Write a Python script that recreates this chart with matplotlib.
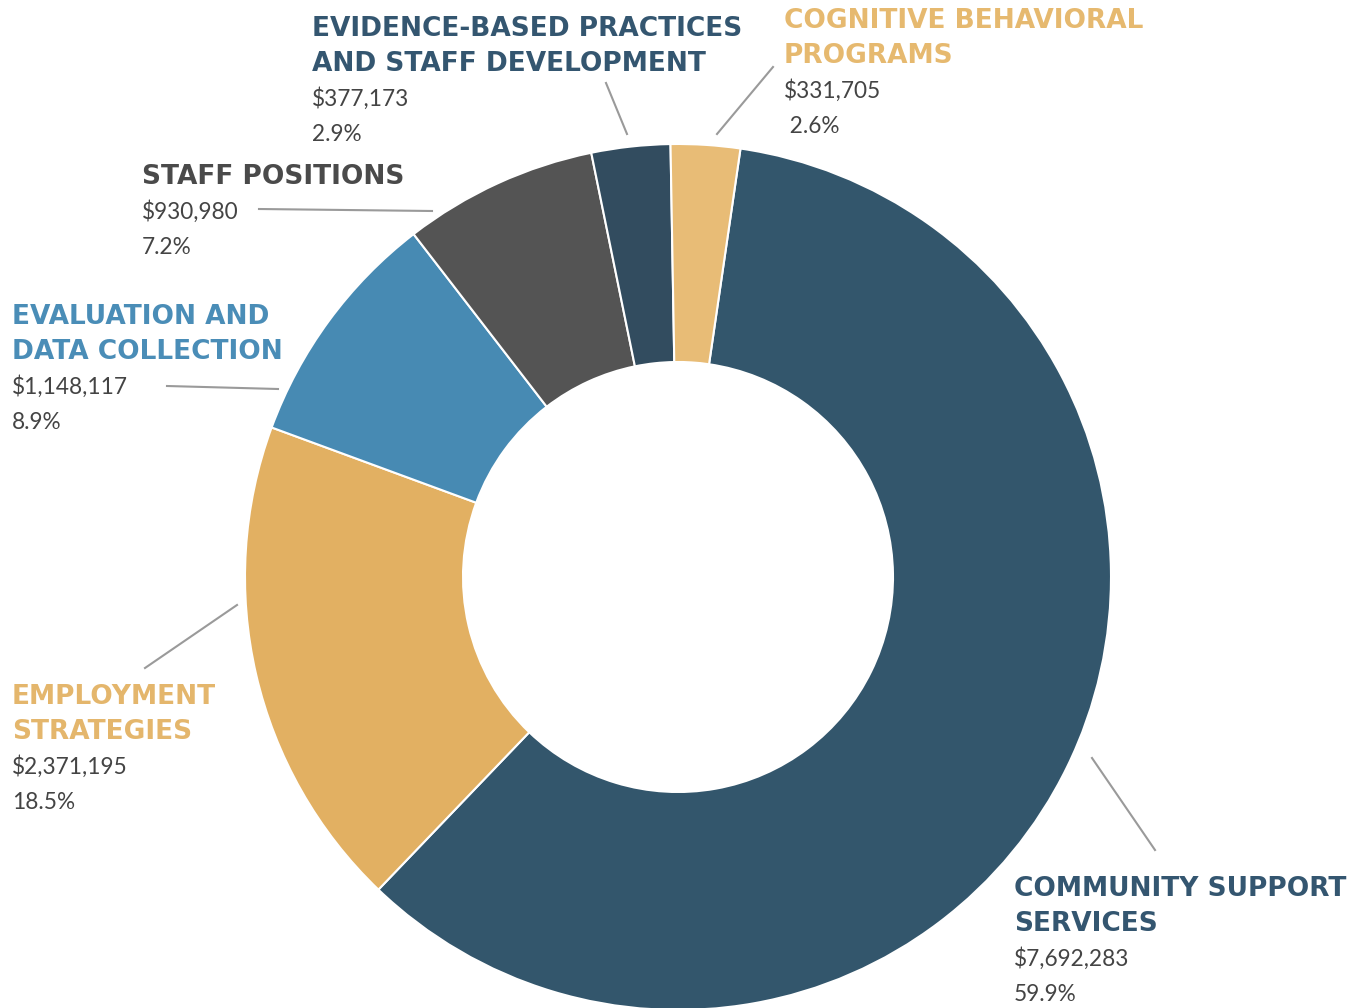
import matplotlib.pyplot as plt

# budget categories, clockwise from the top
categories = ["COMMUNITY SUPPORT\nSERVICES", "EMPLOYMENT\nSTRATEGIES",
              "EVALUATION AND\nDATA COLLECTION", "STAFF POSITIONS",
              "EVIDENCE-BASED PRACTICES\nAND STAFF DEVELOPMENT",
              "COGNITIVE BEHAVIORAL\nPROGRAMS"]
amounts = [7692283, 2371195, 1148117, 930980, 377173, 331705]
amount_labels = ["$7,692,283", "$2,371,195", "$1,148,117", "$930,980", "$377,173", "$331,705"]
pct_labels = ["59.9%", "18.5%", "8.9%", "7.2%", "2.9%", " 2.6%"]

wedge_colors = ["#33566C", "#E2B062", "#478AB3", "#545454", "#324C5F", "#E8BC76"]
title_colors = ["#345670", "#E4B66C", "#4A8DB7", "#4A4A4A", "#345670", "#E6B96F"]

W, H = 1360, 1008
fig = plt.figure(figsize=(W / 100, H / 100), dpi=100)
ax = fig.add_axes([0, 0, 1, 1])

# pixel coords from the top-left corner
def py(y):
    return H - y

ax.pie(amounts, colors=wedge_colors, startangle=81.7, counterclock=False,
       center=(678, py(577)), radius=433,
       wedgeprops=dict(width=218, edgecolor="white", linewidth=1.5))
ax.set_xlim(0, W)
ax.set_ylim(0, H)
ax.set_aspect("equal")
ax.axis("off")

# label anchor (left x, first baseline y) and leader line ends
label_pos = [(1014, 896), (12, 704), (12, 324), (142, 184), (312, 36), (784, 28)]
leaders = [((1092, 758), (1155, 850)), ((237, 605), (145, 668)),
           ((278, 389), (167, 386)), ((432, 211), (259, 209)),
           ((627, 134), (606, 83)), ((717, 134), (773, 67))]

line_h = 35
for i, name in enumerate(categories):
    x, y = label_pos[i]
    lines = name.split("\n")
    for j, ln in enumerate(lines):
        ax.text(x, py(y + j * line_h), ln, color=title_colors[i], fontsize=19,
                fontweight="bold", family="DejaVu Sans", va="baseline", ha="left")
    y2 = y + len(lines) * line_h
    ax.text(x, py(y2), amount_labels[i], color="#444444", fontsize=16.3,
            family="Lato", va="baseline", ha="left")
    ax.text(x, py(y2 + line_h), pct_labels[i], color="#444444", fontsize=16.3,
            family="Lato", va="baseline", ha="left")
    (x0, y0), (x1, y1) = leaders[i]
    ax.plot([x0, x1], [py(y0), py(y1)], color="#9A9A9A", lw=1.5)

fig.savefig("out.png", dpi=100)
